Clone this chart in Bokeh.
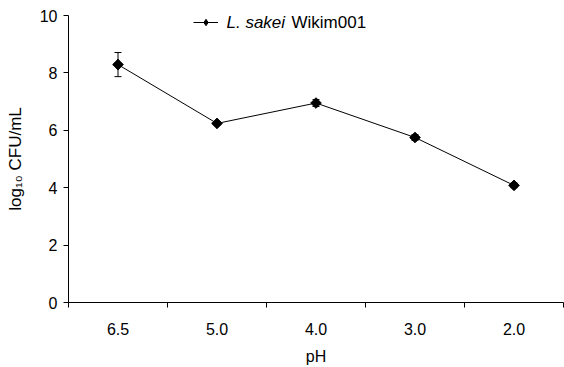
import math
from bokeh.plotting import figure
from bokeh.models import (ColumnDataSource, FixedTicker, Whisker, TeeHead,
                          Legend, LegendItem, Label)
from bokeh.embed import file_html
from bokeh.resources import INLINE

# ---- data ----
ph_labels = ["6.5", "5.0", "4.0", "3.0", "2.0"]
cfu_mean = [8.29, 6.24, 6.95, 5.75, 4.08]
cfu_err = [0.42, 0.06, 0.12, 0.10, 0.08]
y_ticks = [0, 2, 4, 6, 8, 10]

FONT = "Liberation Sans"
FS = "16px"

xs = [i + 0.5 for i in range(len(ph_labels))]
src = ColumnDataSource(dict(
    x=xs, y=cfu_mean,
    upper=[m + e for m, e in zip(cfu_mean, cfu_err)],
    lower=[m - e for m, e in zip(cfu_mean, cfu_err)],
))

p = figure(width=564, height=367, x_range=(0, len(ph_labels)), y_range=(0, 10),
           output_backend="svg", toolbar_location=None,
           min_border_left=68, min_border_right=1, min_border_top=15,
           min_border_bottom=64)
p.outline_line_color = None
p.xgrid.visible = False
p.ygrid.visible = False
p.background_fill_color = "white"
p.border_fill_color = "white"

# x axis: labels at category centres, ticks at boundaries
xa = p.xaxis[0]
xa.ticker = FixedTicker(ticks=xs, minor_ticks=list(range(len(ph_labels) + 1)))
xa.major_label_overrides = {x: l for x, l in zip(xs, ph_labels)}
xa.major_tick_out = 0
xa.major_tick_in = 0
xa.minor_tick_out = 5
xa.minor_tick_in = 0
xa.minor_tick_line_color = "black"
xa.axis_line_color = "black"
xa.major_label_text_font = FONT
xa.major_label_text_font_size = FS
xa.major_label_text_color = "black"
xa.major_label_standoff = 15
xa.axis_label = "pH"
xa.axis_label_text_font = FONT
xa.axis_label_text_font_size = FS
xa.axis_label_text_font_style = "normal"
xa.axis_label_text_color = "black"
xa.axis_label_standoff = 10

ya = p.yaxis[0]
ya.ticker = FixedTicker(ticks=y_ticks, minor_ticks=[])
ya.major_tick_out = 5
ya.major_tick_in = 0
ya.major_tick_line_color = "black"
ya.axis_line_color = "black"
ya.major_label_text_font = FONT
ya.major_label_text_font_size = FS
ya.major_label_text_color = "black"
ya.major_label_standoff = 6
ya.axis_label = "log\u2081\u2080 CFU/mL"
ya.axis_label_text_font = FONT
ya.axis_label_text_font_size = "17px"
ya.axis_label_text_font_style = "normal"
ya.axis_label_text_color = "black"
ya.axis_label_standoff = 12

# error bars
wh = Whisker(source=src, base="x", upper="upper", lower="lower",
             line_color="black", line_width=1,
             upper_head=TeeHead(size=7, line_color="black", line_width=1),
             lower_head=TeeHead(size=7, line_color="black", line_width=1))
p.add_layout(wh)

line_r = p.line("x", "y", source=src, line_color="black", line_width=1)
pts_r = p.scatter("x", "y", source=src, marker="square", size=7.5,
                  angle=math.pi / 4, fill_color="black", line_color="black")

# legend swatch marker: a diamond hidden under the first data point
leg_pt = p.scatter(x=xs[:1], y=cfu_mean[:1], marker="diamond", size=10,
                   fill_color="black", line_color="black")

legend = Legend(items=[LegendItem(label=" ", renderers=[line_r, leg_pt])],
                location=(125, 272), orientation="horizontal",
                glyph_width=25, glyph_height=16, padding=0, margin=0,
                spacing=0, label_standoff=0, label_width=1,
                border_line_alpha=0, background_fill_alpha=0,
                label_text_font_size="1px")
p.add_layout(legend)

p.add_layout(Label(x=158, y=280, x_units="screen", y_units="screen",
                   text="L. sakei", text_font=FONT, text_font_size="17px",
                   text_font_style="italic", text_baseline="middle",
                   text_color="black"))
p.add_layout(Label(x=223, y=280, x_units="screen", y_units="screen",
                   text="Wikim001", text_font=FONT, text_font_size="17px",
                   text_baseline="middle", text_color="black"))

open("out.html", "w").write(file_html(p, INLINE))
